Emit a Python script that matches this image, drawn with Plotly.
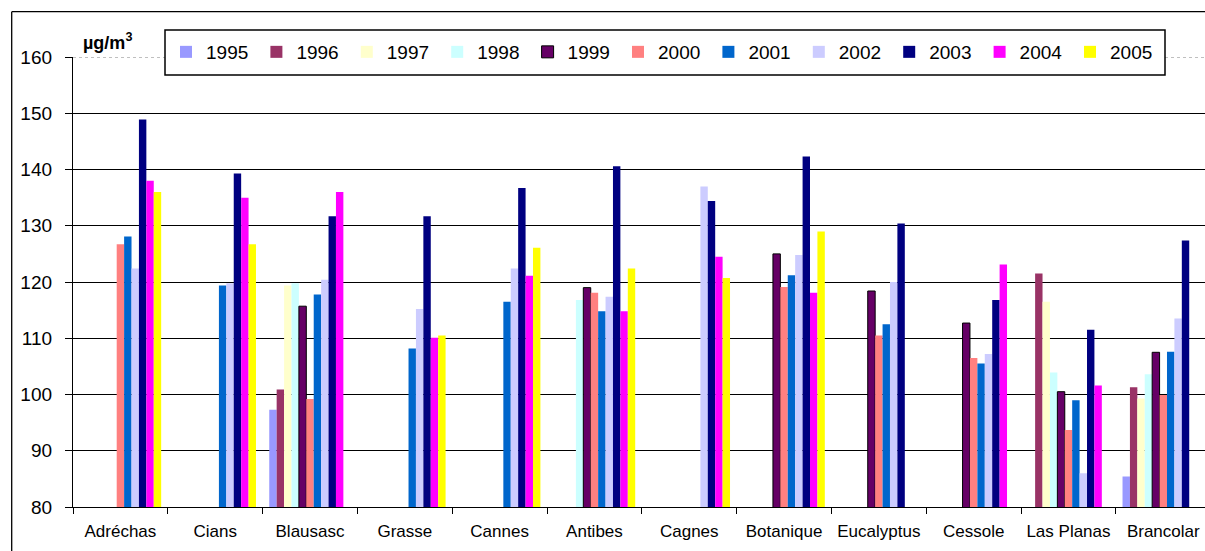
import plotly.graph_objects as go

stations = ["Adréchas", "Cians", "Blausasc", "Grasse", "Cannes", "Antibes",
            "Cagnes", "Botanique", "Eucalyptus", "Cessole", "Las Planas", "Brancolar"]

years = ["1995", "1996", "1997", "1998", "1999", "2000",
         "2001", "2002", "2003", "2004", "2005"]

v1995 = [None, None, 97.3, None, None, None, None, None, None, None, None, 85.4]
v1996 = [None, None, 100.9, None, None, None, None, None, None, None, 121.5, 101.3]
v1997 = [None, None, 119.4, None, None, None, None, None, None, None, 116.5, 99.3]
v1998 = [None, None, 119.8, None, None, 116.8, None, None, None, None, 103.9, 103.6]
v1999 = [None, None, 115.7, None, None, 119.0, None, 125.0, 118.4, 112.7, 100.5, 107.5]
v2000 = [126.7, None, 99.2, None, None, 118.1, None, 119.1, 110.5, 106.5, 93.7, 99.9]
v2001 = [128.1, 119.4, 117.8, 108.2, 116.5, 114.8, None, 121.2, 112.5, 105.5, 99.0, 107.6]
v2002 = [122.4, 119.8, 120.4, 115.2, 122.4, 117.4, 137.0, 124.8, 120.0, 107.2, 86.0, 113.5]
v2003 = [148.9, 139.3, 131.7, 131.7, 136.7, 140.6, 134.4, 142.3, 130.4, 116.8, 111.5, 127.4]
v2004 = [138.0, 135.0, 136.0, 110.1, 121.1, 114.8, 124.5, 118.1, None, 123.1, 101.6, None]
v2005 = [136.0, 126.7, None, 110.5, 126.1, 122.4, 120.7, 129.0, None, None, None, None]

series = [v1995, v1996, v1997, v1998, v1999, v2000, v2001, v2002, v2003, v2004, v2005]

colors = ["#9999FF", "#993366", "#FFFFCC", "#CCFFFF", "#660066", "#FF8080",
          "#0066CC", "#CCCCFF", "#000080", "#FF00FF", "#FFFF00"]

FONT = "Liberation Sans, Arial, sans-serif"

fig = go.Figure()
for yr, vals, col in zip(years, series, colors):
    outline = 1 if yr == "1999" else 0
    fig.add_trace(go.Bar(
        name=yr, x=stations, y=vals,
        marker=dict(color=col, line=dict(color="black", width=outline)),
    ))

# body margin removed in the page (post_script), so the figure fills the window
OFF = 0
W, H = 1205, 551
L, R, T = 73, 0, 57
B = H - 507
pw, ph = W - L - R, H - T - B


def px(xw):
    """window x pixel -> paper x"""
    return (xw - OFF - L) / pw


def py(yw):
    """window y pixel -> paper y"""
    return (H - B - (yw - OFF)) / ph


shapes = [
    # outer chart border (top and left)
    dict(type="line", xref="paper", yref="paper", x0=px(11.7), x1=px(1215), y0=py(11.7), y1=py(11.7),
         line=dict(color="black", width=1.3)),
    dict(type="line", xref="paper", yref="paper", x0=px(11.7), x1=px(11.7), y0=py(11.7), y1=py(560),
         line=dict(color="black", width=1.3)),
    # top (160) line: dotted gray
    dict(type="line", xref="paper", yref="y", x0=0, x1=1, y0=160, y1=160,
         line=dict(color="white", width=2)),
    dict(type="line", xref="paper", yref="y", x0=0, x1=1, y0=160, y1=160,
         line=dict(color="#808080", width=1, dash="dot")),
    # legend box
    dict(type="rect", xref="paper", yref="paper", x0=px(165), x1=px(1165), y0=py(75), y1=py(30),
         line=dict(color="black", width=1.5), fillcolor="white", layer="above"),
]

fig.update_layout(
    width=W, height=H,
    margin=dict(l=L, r=R, t=T, b=B, autoexpand=False),
    paper_bgcolor="white", plot_bgcolor="white",
    font=dict(family=FONT, size=19, color="black"),
    barmode="group", bargap=0.14, bargroupgap=0,
    showlegend=True,
    legend=dict(orientation="h", x=px(166), xanchor="left", y=py(52), yanchor="middle",
                bgcolor="rgba(0,0,0,0)", borderwidth=0,
                font=dict(family=FONT, size=19, color="black"),
                entrywidth=45.4, entrywidthmode="pixels", traceorder="normal"),
    shapes=shapes,
    annotations=[dict(text="<b>µg/m<sup>3</sup></b>", xref="paper", yref="paper",
                      x=px(81), y=py(41), xanchor="left", yanchor="middle", showarrow=False,
                      font=dict(family=FONT, size=18, color="black"))],
)

fig.update_xaxes(
    type="category", range=[-0.5, 11.44],
    showline=True, linecolor="black", linewidth=1.3,
    ticks="outside", tickson="boundaries", ticklen=6, tickcolor="black", tickwidth=1.3,
    tickfont=dict(family=FONT, size=17, color="black"),
    ticklabelstandoff=8, showgrid=False,
)
fig.update_yaxes(
    range=[80, 160], tick0=80, dtick=10,
    showline=True, linecolor="black", linewidth=1.3,
    ticks="outside", ticklen=7, tickcolor="black", tickwidth=1.3,
    tickfont=dict(family=FONT, size=19, color="black"),
    ticklabelstandoff=9,
    showgrid=True, gridcolor="black", gridwidth=1,
    zeroline=False,
)

fig.write_html(
    "out.html",
    config={"displayModeBar": False},
    post_script=("document.documentElement.style.margin='0';"
                 "document.body.style.margin='0';"
                 "document.documentElement.style.overflow='hidden';"
                 "document.body.style.overflow='hidden';"),
)
